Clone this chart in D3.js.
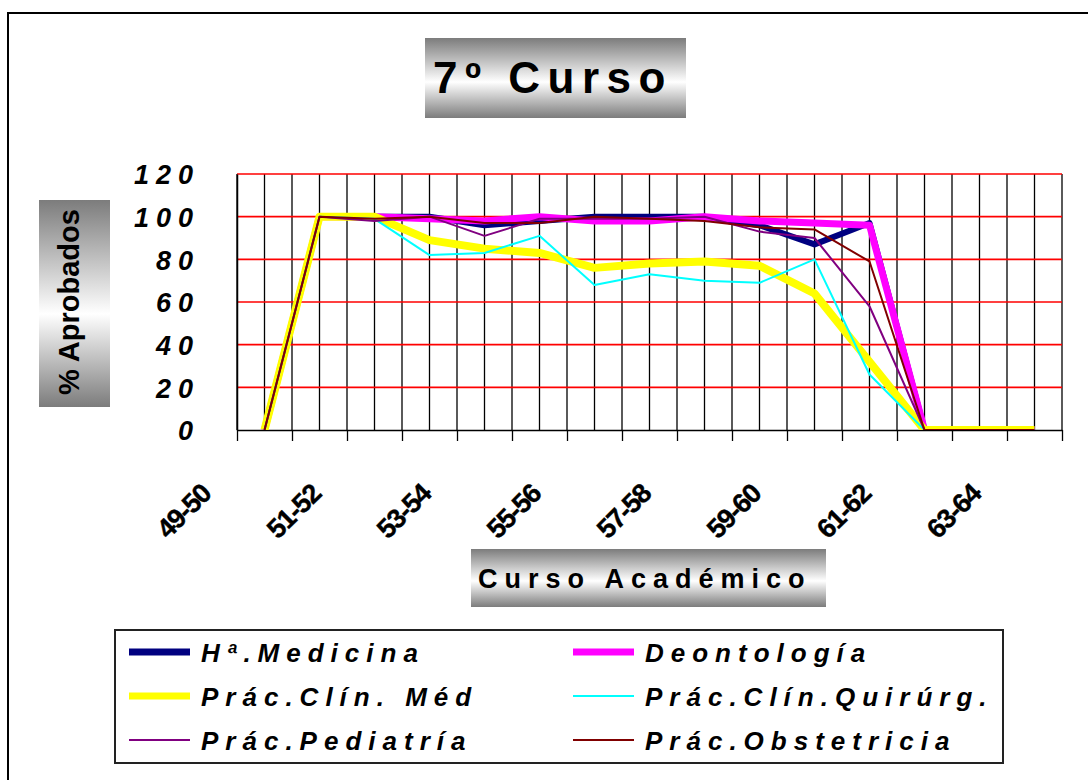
<!DOCTYPE html>
<html>
<head>
<meta charset="utf-8">
<script src="https://cdn.jsdelivr.net/npm/d3@7"></script>
<style>
  html, body { margin: 0; padding: 0; background: #fff; }
  svg { display: block; font-family: "Liberation Sans", Arial, sans-serif; }
</style>
</head>
<body>
<svg id="chart" width="1088" height="780"></svg>
<script>
// ---- DATA ----
const categories = ["49-50","50-51","51-52","52-53","53-54","54-55","55-56","56-57","57-58","58-59","59-60","60-61","61-62","62-63","63-64"];
const tickLabels = ["49-50","51-52","53-54","55-56","57-58","59-60","61-62","63-64"];
const yTicks = [0, 20, 40, 60, 80, 100, 120];
const seriesNames = ["Hª.Medicina","Deontología","Prác.Clín. Méd","Prác.Clín.Quirúrg.","Prác.Pediatría","Prác.Obstetricia"];
const medicina    = [0,100,100,100, 96, 98,100,100,100, 96, 87, 97,0,0,0];
const deontologia = [0,100,100, 99, 98,100, 98, 98,100, 98, 97, 96,0,0,0];
const clinMed     = [0,100,100, 89, 85, 83, 76, 78, 79, 77, 64, 32,0,0,0];
const clinQuir    = [0,100, 99, 82, 83, 91, 68, 73, 70, 69, 80, 26,0,0,0];
const pediatria   = [0,100, 98,100, 91, 99, 99, 99,100, 93, 90, 58,0,0,0];
const obstetricia = [0,100, 99,100, 97, 97,100, 99, 98, 95, 94, 79,0,0,0];
const seriesValues = [medicina, deontologia, clinMed, clinQuir, pediatria, obstetricia];
const seriesColors = ["#000080","#FF00FF","#FFFF00","#00FFFF","#800080","#800000"];
const seriesWidths = [6, 7, 8, 2, 2, 2];

// ---- LAYOUT ----
const svg = d3.select("#chart");
const L = 237, R = 1062, T = 174, B = 430;
const FONT = '"Liberation Sans", Arial, sans-serif';

const x = d3.scaleBand().domain(categories).range([L, R]).padding(0);
const xb = d3.scaleLinear().domain([0, categories.length]).range([L, R]);
const y = d3.scaleLinear().domain([0, 120]).range([B, T]);
const cx = c => x(c) + x.bandwidth() / 2;

// gradients
const defs = svg.append("defs");
const grad = defs.append("linearGradient").attr("id", "gray").attr("x1", 0).attr("y1", 0).attr("x2", 0).attr("y2", 1);
grad.append("stop").attr("offset", "0%").attr("stop-color", "#7c7c7c");
grad.append("stop").attr("offset", "55%").attr("stop-color", "#ffffff");
grad.append("stop").attr("offset", "100%").attr("stop-color", "#7c7c7c");
defs.append("clipPath").attr("id", "plotclip").append("rect")
  .attr("x", L).attr("y", T - 2).attr("width", R - L).attr("height", B - T + 2);

// outer border
svg.append("rect").attr("x", 8).attr("y", 13).attr("width", 1200).attr("height", 900)
  .attr("fill", "none").attr("stroke", "#000").attr("stroke-width", 2);

// title
svg.append("rect").attr("x", 425).attr("y", 38).attr("width", 261).attr("height", 80).attr("fill", "url(#gray)");
svg.append("text").attr("x", 433).attr("y", 93).text("7º Curso")
  .attr("font-size", 44).attr("font-weight", "bold").attr("letter-spacing", 7.5).attr("fill", "#000");

// y title
svg.append("rect").attr("x", 39).attr("y", 200).attr("width", 71).attr("height", 207).attr("fill", "url(#gray)");
svg.append("text").attr("transform", "translate(79,302) rotate(-90)").attr("text-anchor", "middle")
  .attr("font-size", 29).attr("font-weight", "bold").attr("fill", "#000").text("% Aprobados");

// x title
svg.append("rect").attr("x", 471).attr("y", 549).attr("width", 355).attr("height", 58).attr("fill", "url(#gray)");
svg.append("text").attr("x", 478).attr("y", 588).text("Curso Académico")
  .attr("font-size", 27).attr("font-weight", "bold").attr("letter-spacing", 7).attr("fill", "#000");

// vertical gridlines (boundaries and centres)
const vLines = [];
for (let i = 0; i <= categories.length; i++) vLines.push(xb(i));
categories.forEach(c => vLines.push(cx(c)));
svg.append("g").selectAll("line").data(vLines).join("line")
  .attr("x1", d => d).attr("x2", d => d).attr("y1", T).attr("y2", B)
  .attr("stroke", "#000").attr("stroke-width", 1.3);

// horizontal gridlines
svg.append("g").selectAll("line").data(yTicks.filter(v => v > 0)).join("line")
  .attr("x1", L).attr("x2", R).attr("y1", d => y(d)).attr("y2", d => y(d))
  .attr("stroke", "#FF0000").attr("stroke-width", 1.6);

// y axis
const yAxis = svg.append("g").attr("transform", `translate(${L},0)`)
  .call(d3.axisLeft(y).tickValues(yTicks).tickSize(0).tickPadding(37).tickFormat(d3.format("d")));
yAxis.select(".domain").attr("stroke", "#000").attr("stroke-width", 1.5);
yAxis.selectAll("text").attr("font-family", FONT).attr("font-size", 27).attr("font-weight", "bold")
  .attr("font-style", "italic").attr("letter-spacing", 7).attr("fill", "#000").attr("dy", "0.36em");

// x axis (ticks at category boundaries)
const xAxis = svg.append("g").attr("transform", `translate(0,${B})`)
  .call(d3.axisBottom(xb).tickValues(d3.range(categories.length + 1)).tickSize(11).tickSizeOuter(0).tickFormat(""));
xAxis.select(".domain").attr("stroke", "#000").attr("stroke-width", 1.5);
xAxis.selectAll(".tick line").attr("stroke", "#000").attr("stroke-width", 1.3);

// x labels
svg.append("g").selectAll("text").data(tickLabels).join("text")
  .attr("transform", d => `translate(${cx(d) - 81},${511}) rotate(-45)`)
  .attr("text-anchor", "middle").attr("dy", "0.35em")
  .attr("font-size", 27).attr("font-weight", "bold").attr("letter-spacing", -1.2).attr("fill", "#000")
  .attr("stroke", "#000").attr("stroke-width", 0.4)
  .text(d => d);

// series lines
const line = d3.line().x((d, i) => cx(categories[i])).y(d => y(d));
const lg = svg.append("g").attr("clip-path", "url(#plotclip)");
seriesValues.forEach((vals, k) => {
  lg.append("path").attr("d", line(vals)).attr("fill", "none")
    .attr("stroke", seriesColors[k]).attr("stroke-width", seriesWidths[k])
    .attr("stroke-linejoin", "round");
});

// legend
svg.append("rect").attr("x", 115).attr("y", 630).attr("width", 888).attr("height", 133)
  .attr("fill", "#fff").attr("stroke", "#222").attr("stroke-width", 2);
const legX = [129, 573], legY = [652, 696, 740];
seriesNames.forEach((name, k) => {
  const col = k % 2, row = Math.floor(k / 2);
  const lx = legX[col], ly = legY[row];
  svg.append("line").attr("x1", lx).attr("x2", lx + 61).attr("y1", ly).attr("y2", ly)
    .attr("stroke", seriesColors[k]).attr("stroke-width", seriesWidths[k] >= 6 ? 7 : 2);
  svg.append("text").attr("x", lx + 72).attr("y", ly + 10).text(name)
    .attr("font-size", 26).attr("font-weight", "bold").attr("font-style", "italic")
    .attr("letter-spacing", 7).attr("fill", "#000");
});
</script>
</body>
</html>
